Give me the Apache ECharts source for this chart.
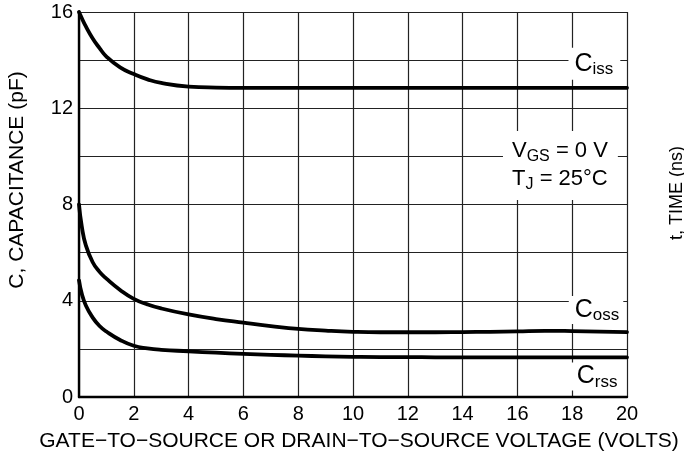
<!DOCTYPE html>
<html>
<head>
<meta charset="utf-8">
<script src="https://cdn.jsdelivr.net/npm/echarts@6/dist/echarts.min.js"></script>
<style>
html,body{margin:0;padding:0;background:#fff;}
#chart{width:684px;height:460px;}
</style>
</head>
<body>
<div id="chart"></div>
<script>
// Data
const voltage = [0, 0.1, 0.25, 0.5, 0.75, 1, 1.5, 2, 2.5, 3, 4, 5, 6, 7, 8, 9, 10, 11, 12, 13, 14, 15, 16, 17, 18, 19, 20];
const ciss = [16, 15.75, 15.4, 14.9, 14.5, 14.15, 13.7, 13.42, 13.2, 13.05, 12.9, 12.86, 12.85, 12.85, 12.85, 12.85, 12.85, 12.85, 12.85, 12.85, 12.85, 12.85, 12.85, 12.85, 12.85, 12.85, 12.85];
const coss = [8.0, 7.1, 6.3, 5.6, 5.2, 4.92, 4.45, 4.08, 3.85, 3.68, 3.43, 3.24, 3.09, 2.95, 2.83, 2.76, 2.71, 2.69, 2.69, 2.69, 2.7, 2.71, 2.73, 2.75, 2.74, 2.72, 2.7];
const crss = [4.85, 4.3, 3.8, 3.3, 2.95, 2.72, 2.37, 2.13, 2.02, 1.96, 1.9, 1.84, 1.79, 1.75, 1.72, 1.69, 1.67, 1.66, 1.66, 1.65, 1.65, 1.65, 1.65, 1.65, 1.65, 1.65, 1.65];
const yTickLabels = [0, 4, 8, 12, 16];
const xTitle = 'GATE\u2212TO\u2212SOURCE OR DRAIN\u2212TO\u2212SOURCE VOLTAGE (VOLTS)';
const yTitle = 'C, CAPACITANCE (pF)';
const rightCutTitle = 't, TIME (ns)';
// annotation anchors in data coordinates [x, y]
const annCiss = [18.81, 13.85];
const annCond = [17.57, 9.62];
const annCoss = [18.87, 3.62];
const annCrss = [18.87, 0.85];

const FONT = '"Liberation Sans", Arial, Helvetica, sans-serif';
const pairs = arr => voltage.map((v, i) => [v, arr[i]]);

const chart = echarts.init(document.getElementById('chart'), null, {renderer: 'canvas'});
const lineSeries = (name, arr) => ({
  name, type: 'line', data: pairs(arr), showSymbol: false, symbol: 'none',
  smooth: 0.5,
  lineStyle: {color: '#000', width: 3.8, cap: 'round', join: 'round'}, z: 5, silent: true
});

chart.setOption({
  animation: false,
  backgroundColor: '#fff',
  grid: {left: 79, right: 57, top: 12, bottom: 63, containLabel: false},
  xAxis: {
    type: 'value', min: 0, max: 20, interval: 2,
    axisLine: {show: true, onZero: false, lineStyle: {color: '#000', width: 2.4}},
    axisTick: {show: false},
    axisLabel: {color: '#000', fontFamily: FONT, fontSize: 20, margin: 7},
    splitLine: {show: true, lineStyle: {color: '#222', width: 1.2}}
  },
  yAxis: {
    type: 'value', min: 0, max: 16, interval: 2,
    axisLine: {show: true, onZero: false, lineStyle: {color: '#000', width: 2.4}},
    axisTick: {show: false},
    axisLabel: {color: '#000', fontFamily: FONT, fontSize: 20, margin: 6,
      formatter: v => yTickLabels.indexOf(v) >= 0 ? String(v) : ''},
    splitLine: {show: true, lineStyle: {color: '#222', width: 1.2}}
  },
  series: [lineSeries('Ciss', ciss), lineSeries('Coss', coss), lineSeries('Crss', crss)]
});

const px = p => chart.convertToPixel({gridIndex: 0}, p);
const subRich = {
  c: {fontSize: 25, fontFamily: FONT, color: '#000', lineHeight: 28},
  s: {fontSize: 17, fontFamily: FONT, color: '#000', lineHeight: 14, verticalAlign: 'bottom'}
};
const condRich = {
  m: {fontSize: 22, fontFamily: FONT, color: '#000', lineHeight: 28},
  s: {fontSize: 16, fontFamily: FONT, color: '#000', lineHeight: 16, verticalAlign: 'bottom'}
};
function subLabel(pos, sub, padding) {
  const p = px(pos);
  return {
    type: 'text', x: p[0], y: p[1], z: 10,
    style: {
      text: '{c|C}{s|' + sub + '}', rich: subRich,
      align: 'center', verticalAlign: 'middle',
      backgroundColor: '#fff', padding: padding
    }
  };
}
const pc = px(annCond);
chart.setOption({
  graphic: [
    subLabel(annCiss, 'iss', [2, 7, 2, 6]),
    subLabel(annCoss, 'oss', [0, 4, 0, 6]),
    subLabel(annCrss, 'rss', [0, 4, 0, 6]),
    {
      type: 'text', x: pc[0], y: pc[1], z: 10,
      style: {
        text: '{m|V}{s|GS}{m| = 0 V}\n{m|T}{s|J}{m| = 25\u00B0C}', rich: condRich,
        align: 'center', verticalAlign: 'middle',
        backgroundColor: '#fff', padding: [6, 10, 7, 9]
      }
    },
    {
      type: 'text', x: 17.5, y: 180, rotation: Math.PI / 2, z: 10,
      style: {text: yTitle, font: '21px ' + FONT, fill: '#000', align: 'center', verticalAlign: 'middle'}
    },
    {
      type: 'text', x: 359, y: 441, z: 10,
      style: {text: xTitle, font: '21px ' + FONT, fill: '#000', align: 'center', verticalAlign: 'middle'}
    },
    {
      type: 'text', x: 668, y: 193, rotation: Math.PI / 2, z: 10,
      style: {text: rightCutTitle, font: '18px ' + FONT, fill: '#000', align: 'center', verticalAlign: 'top'}
    }
  ]
});
</script>
</body>
</html>
